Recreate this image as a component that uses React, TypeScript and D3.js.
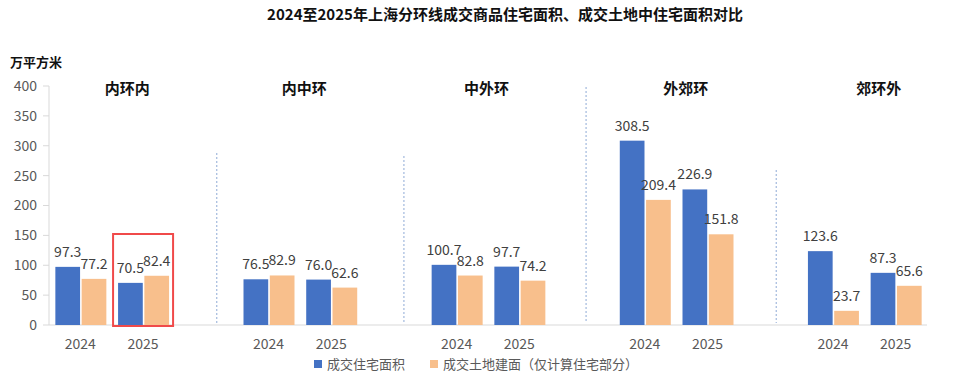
import React from "react";
import * as d3 from "d3";

const groups = ["内环内", "内中环", "中外环", "外郊环", "郊环外"];
const years = ["2024", "2025"];
const residentialArea = [97.3, 70.5, 76.5, 76.0, 100.7, 97.7, 308.5, 226.9, 123.6, 87.3];
const landArea = [77.2, 82.4, 82.9, 62.6, 82.8, 74.2, 209.4, 151.8, 23.7, 65.6];
const yTicks = [0, 50, 100, 150, 200, 250, 300, 350, 400];
const seriesNames = ["成交住宅面积", "成交土地建面（仅计算住宅部分）"];
const colors = ["#4472C4", "#F8BF8C"];

const W = 960;
const H = 383;
const FONT = "'Noto Sans CJK SC', 'Noto Sans', sans-serif";
const labelOffsets = [15.5, 4.5, -1.5, 9.5, 14.5];
const sepOffsets = [11, 10, 4, 6];
const sepTops = [153, 156, 87, 170];

export default function App() {
  const slots: string[] = [];
  groups.forEach((g, gi) => {
    years.forEach((y) => slots.push(`${g}-${y}`));
    if (gi < groups.length - 1) slots.push(`${g}-gap`);
  });
  const x = d3.scaleBand<string>().domain(slots).range([49, 927]).padding(0);
  const y = d3.scaleLinear().domain([0, 400]).range([325, 86]);
  const bw = x.bandwidth();

  const points = groups.flatMap((g, gi) =>
    years.map((yr, yi) => {
      const idx = gi * 2 + yi;
      const cx = (x(`${g}-${yr}`) as number) + bw / 2;
      const sub = d3
        .scaleBand<number>()
        .domain([0, 1])
        .range([cx - 25, cx + 26])
        .paddingInner(0.06);
      return { g, gi, yr, cx, sub, vals: [residentialArea[idx], landArea[idx]] };
    })
  );

  const box = points[1];

  return (
    <svg width={W} height={H} style={{ position: "absolute", left: 0, top: 0, fontFamily: FONT }}>
      <rect width={W} height={H} fill="#fff" />
      <text x={505} y={20} textAnchor="middle" fontSize={15} fontWeight="bold" fill="#111">
        2024至2025年上海分环线成交商品住宅面积、成交土地中住宅面积对比
      </text>
      <text x={10} y={67} fontSize={13} fontWeight="bold" fill="#111">万平方米</text>

      {/* y axis */}
      <line x1={49} x2={49} y1={y(400)} y2={y(0)} stroke="#d9d9d9" />
      {yTicks.map((t) => (
        <g key={t}>
          <line x1={43} x2={49} y1={y(t)} y2={y(t)} stroke="#d9d9d9" />
          <text x={37} y={y(t)} dy="0.35em" textAnchor="end" fontSize={14} fill="#595959">
            {t}
          </text>
        </g>
      ))}
      <line x1={49} x2={927} y1={y(0)} y2={y(0)} stroke="#d9d9d9" />

      {/* separators */}
      {groups.slice(0, -1).map((g, i) => {
        const sx = (x(`${g}-gap`) as number) + bw / 2 + sepOffsets[i];
        return (
          <line key={g} x1={sx} x2={sx} y1={sepTops[i]} y2={y(0) - 2}
            stroke="#8faad6" strokeWidth={1} strokeDasharray="2,2" />
        );
      })}

      {/* group labels */}
      {groups.map((g, gi) => {
        const c = ((x(`${g}-2024`) as number) + (x(`${g}-2025`) as number) + bw) / 2;
        return (
          <text key={g} x={c + labelOffsets[gi]} y={89} dy="0.35em" textAnchor="middle"
            fontSize={15} fontWeight="bold" fill="#111">
            {g}
          </text>
        );
      })}

      {/* bars */}
      {points.map((p) => (
        <g key={`${p.g}-${p.yr}`}>
          {p.vals.map((v, si) => (
            <g key={si}>
              <rect x={p.sub(si) as number} y={y(v)} width={p.sub.bandwidth()} height={y(0) - y(v)}
                fill={colors[si]} />
              <text x={(p.sub(si) as number) + p.sub.bandwidth() / 2} y={y(v) - 10}
                textAnchor="middle" fontSize={14} fill="#404040">
                {v.toFixed(1)}
              </text>
            </g>
          ))}
          <text x={p.cx} y={344} dy="0.35em" textAnchor="middle" fontSize={14} fill="#595959">
            {p.yr}
          </text>
        </g>
      ))}

      {/* highlight box */}
      <rect x={box.cx - 30} y={234} width={60} height={y(0) - 234 + 1} fill="none"
        stroke="#F04A4A" strokeWidth={2} />

      {/* legend */}
      <rect x={314} y={360} width={8} height={8} fill={colors[0]} />
      <text x={327} y={364} dy="0.35em" fontSize={13} fill="#595959">{seriesNames[0]}</text>
      <rect x={430} y={360} width={8} height={8} fill={colors[1]} />
      <text x={443} y={364} dy="0.35em" fontSize={13} fill="#595959">{seriesNames[1]}</text>
    </svg>
  );
}
